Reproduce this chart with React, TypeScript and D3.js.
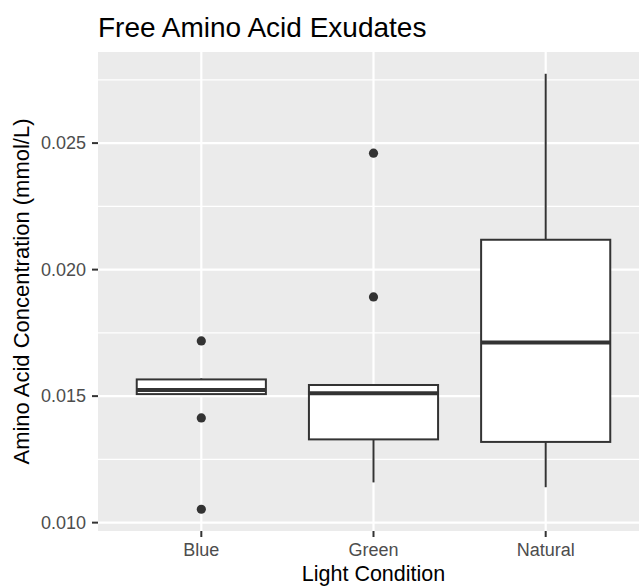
import React, { useEffect, useRef } from 'react';
import * as d3 from 'd3';

// categories and box stats
const categories = ['Blue', 'Green', 'Natural'];
const whiskerLow = [0.01508, 0.01159, 0.0114];
const q1 = [0.01508, 0.01329, 0.01319];
const median = [0.01524, 0.01511, 0.01712];
const q3 = [0.01566, 0.01544, 0.02118];
const whiskerHigh = [0.0157, 0.01544, 0.02774];
const outliers = [
  [0.01718, 0.01414, 0.01053],
  [0.0246, 0.01892],
  [],
];
const yTicks = [0.01, 0.015, 0.02, 0.025];
const yMinor = [0.0125, 0.0175, 0.0225, 0.0275];

const W = 639;
const H = 586;
const FONT = '"Liberation Sans", Arial, Helvetica, sans-serif';

export default function App() {
  const svgRef = useRef<SVGSVGElement>(null);

  useEffect(() => {
    document.body.style.margin = '0';
    if (!svgRef.current) return;
    const svg = d3.select(svgRef.current);
    svg.selectAll('*').remove();

    const panel = { left: 98, right: 649, top: 52, bottom: 531 };

    const allVals = [...whiskerLow, ...whiskerHigh, ...outliers.flat()];
    const lo = d3.min(allVals) as number;
    const hi = d3.max(allVals) as number;
    const pad = (hi - lo) * 0.05;

    const y = d3.scaleLinear().domain([lo - pad, hi + pad]).range([panel.bottom, panel.top]);
    const x = d3.scaleLinear().domain([0.4, categories.length + 0.6]).range([panel.left, panel.right]);
    const boxHalf = (x(1.75) - x(1)) / 2;

    svg.append('rect')
      .attr('x', panel.left).attr('y', panel.top)
      .attr('width', panel.right - panel.left).attr('height', panel.bottom - panel.top)
      .attr('fill', '#EBEBEB');

    // grid
    svg.selectAll('.minor').data(yMinor).enter().append('line')
      .attr('x1', panel.left).attr('x2', panel.right)
      .attr('y1', d => y(d)).attr('y2', d => y(d))
      .attr('stroke', '#fff').attr('stroke-width', 1.1);
    svg.selectAll('.major').data(yTicks).enter().append('line')
      .attr('x1', panel.left).attr('x2', panel.right)
      .attr('y1', d => y(d)).attr('y2', d => y(d))
      .attr('stroke', '#fff').attr('stroke-width', 2.2);
    svg.selectAll('.vmajor').data(categories).enter().append('line')
      .attr('x1', (d, i) => x(i + 1)).attr('x2', (d, i) => x(i + 1))
      .attr('y1', panel.top).attr('y2', panel.bottom)
      .attr('stroke', '#fff').attr('stroke-width', 2.2);

    // boxes
    const g = svg.append('g');
    categories.forEach((c, i) => {
      const cx = x(i + 1);
      g.append('line')
        .attr('x1', cx).attr('x2', cx)
        .attr('y1', y(q3[i])).attr('y2', y(whiskerHigh[i]))
        .attr('stroke', '#333333').attr('stroke-width', 2);
      g.append('line')
        .attr('x1', cx).attr('x2', cx)
        .attr('y1', y(q1[i])).attr('y2', y(whiskerLow[i]))
        .attr('stroke', '#333333').attr('stroke-width', 2);
      g.append('rect')
        .attr('x', cx - boxHalf).attr('y', y(q3[i]))
        .attr('width', boxHalf * 2).attr('height', y(q1[i]) - y(q3[i]))
        .attr('fill', '#fff').attr('stroke', '#333333').attr('stroke-width', 2);
      g.append('line')
        .attr('x1', cx - boxHalf).attr('x2', cx + boxHalf)
        .attr('y1', y(median[i])).attr('y2', y(median[i]))
        .attr('stroke', '#333333').attr('stroke-width', 4);
      g.selectAll(`.out${i}`).data(outliers[i]).enter().append('circle')
        .attr('cx', cx).attr('cy', d => y(d)).attr('r', 4.6)
        .attr('fill', '#333333');
    });

    // axes
    yTicks.forEach(t => {
      svg.append('line')
        .attr('x1', panel.left - 6).attr('x2', panel.left)
        .attr('y1', y(t)).attr('y2', y(t))
        .attr('stroke', '#333333').attr('stroke-width', 2);
      svg.append('text')
        .attr('x', panel.left - 12).attr('y', y(t))
        .attr('dy', '0.35em').attr('text-anchor', 'end')
        .attr('font-family', FONT).attr('font-size', 18).attr('fill', '#4D4D4D')
        .text(d3.format('.3f')(t));
    });
    categories.forEach((c, i) => {
      svg.append('line')
        .attr('x1', x(i + 1)).attr('x2', x(i + 1))
        .attr('y1', panel.bottom).attr('y2', panel.bottom + 6)
        .attr('stroke', '#333333').attr('stroke-width', 2);
      svg.append('text')
        .attr('x', x(i + 1)).attr('y', 555.5)
        .attr('text-anchor', 'middle')
        .attr('font-family', FONT).attr('font-size', 18).attr('fill', '#4D4D4D')
        .text(c);
    });

    svg.append('text')
      .attr('x', (panel.left + panel.right) / 2).attr('y', 580.5)
      .attr('text-anchor', 'middle')
      .attr('font-family', FONT).attr('font-size', 21.5).attr('fill', '#000')
      .text('Light Condition');

    svg.append('text')
      .attr('transform', `translate(29,${(panel.top + panel.bottom) / 2}) rotate(-90)`)
      .attr('text-anchor', 'middle')
      .attr('font-family', FONT).attr('font-size', 22).attr('fill', '#000')
      .text('Amino Acid Concentration (mmol/L)');

    svg.append('text')
      .attr('x', 98).attr('y', 36.7)
      .attr('font-family', FONT).attr('font-size', 28).attr('fill', '#000')
      .text('Free Amino Acid Exudates');
  }, []);

  return <svg ref={svgRef} width={W} height={H} style={{ display: 'block', background: '#fff' }} />;
}
